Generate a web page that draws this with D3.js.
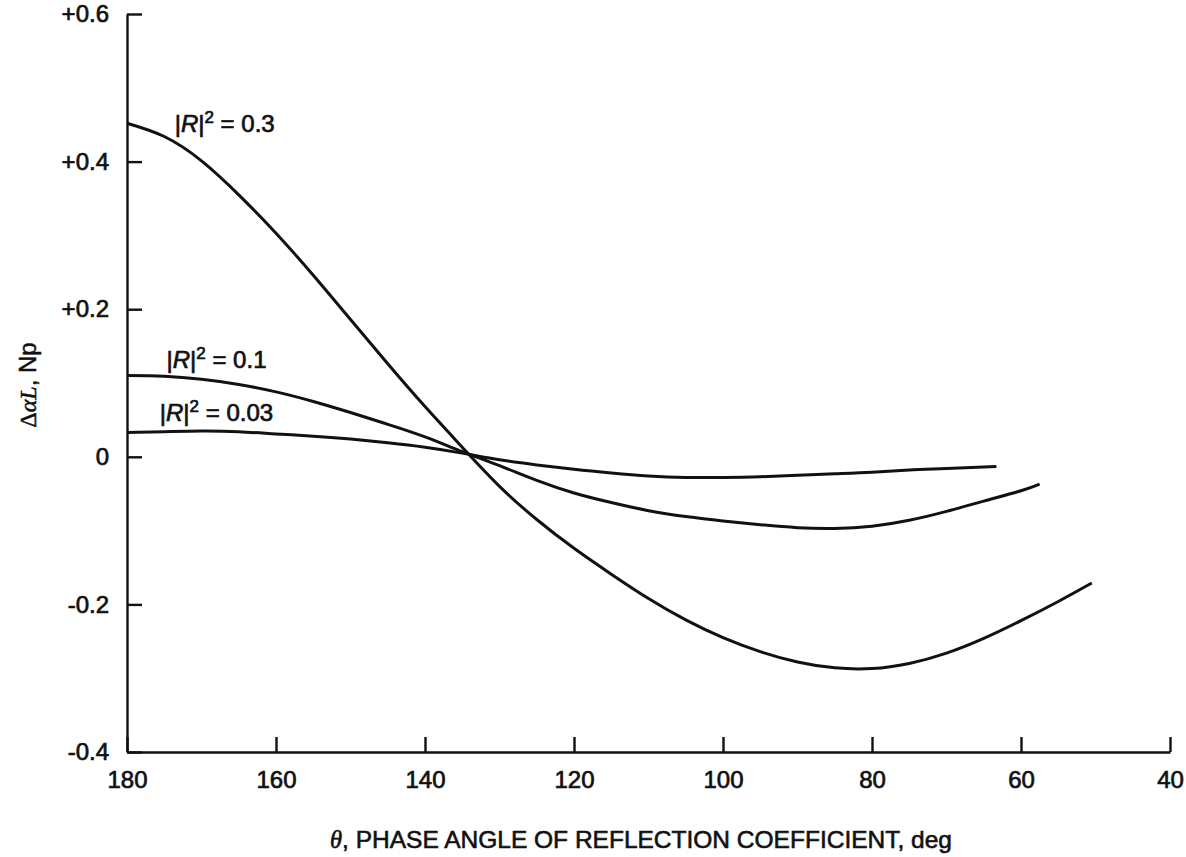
<!DOCTYPE html>
<html>
<head>
<meta charset="utf-8">
<script src="https://cdn.jsdelivr.net/npm/d3@7"></script>
<style>
  body { margin: 0; background: #fff; }
  svg text { font-family: "Liberation Sans", Arial, Helvetica, sans-serif; fill: #111; }
</style>
</head>
<body>
<div id="chart"></div>
<script>
// phase angle (deg) and delta alpha L (Np)
var theta03 = [180, 175, 170, 165, 160, 155, 150, 145, 140, 135, 130, 125, 120, 115, 110, 105, 100, 95, 90, 85, 80, 75, 70, 65, 60, 55, 50.5];
var val03   = [0.452, 0.434, 0.401, 0.355, 0.303, 0.246, 0.186, 0.126, 0.068, 0.013, -0.040, -0.085, -0.124, -0.159, -0.192, -0.221, -0.245, -0.264, -0.278, -0.286, -0.287, -0.280, -0.266, -0.246, -0.222, -0.196, -0.171];

var theta01 = [180, 175, 170, 165, 160, 155, 150, 145, 140, 135, 130, 125, 120, 115, 110, 105, 100, 95, 90, 85, 80, 75, 70, 65, 60, 57.5];
var val01   = [0.110, 0.109, 0.105, 0.098, 0.088, 0.075, 0.060, 0.044, 0.027, 0.007, -0.012, -0.032, -0.049, -0.062, -0.073, -0.081, -0.087, -0.092, -0.096, -0.097, -0.094, -0.086, -0.074, -0.060, -0.046, -0.037];

var theta003 = [180, 175, 170, 165, 160, 155, 150, 145, 140, 135, 130, 125, 120, 115, 110, 105, 100, 95, 90, 85, 80, 75, 70, 63.3];
var val003   = [0.033, 0.034, 0.035, 0.034, 0.031, 0.028, 0.024, 0.019, 0.013, 0.005, -0.004, -0.011, -0.017, -0.022, -0.026, -0.028, -0.028, -0.027, -0.025, -0.023, -0.021, -0.018, -0.016, -0.013];

var xTicks = [180, 160, 140, 120, 100, 80, 60, 40];
var yTicks = [-0.4, -0.2, 0, 0.2, 0.4, 0.6];
var yTickLabels = ["-0.4", "-0.2", "0", "+0.2", "+0.4", "+0.6"];

var curveNames = ["0.3", "0.1", "0.03"];

// svg area
var W = 1186, H = 857;
var svg = d3.select("#chart")
  .append("svg")
    .attr("width", W)
    .attr("height", H);

// scales (angle runs backwards, 180 on the left)
var x = d3.scaleLinear().domain([180, 40]).range([127, 1170]);
var y = d3.scaleLinear().domain([-0.4, 0.6]).range([752, 14]);

// x axis, ticks pointing up into the plot
var xAxis = svg.append("g")
  .attr("transform", "translate(0," + y(-0.4) + ")")
  .call(d3.axisBottom(x)
    .tickValues(xTicks)
    .tickFormat(d3.format("d"))
    .tickSizeInner(-15)
    .tickSizeOuter(0)
    .tickPadding(19));

// y axis, ticks pointing right
var yAxis = svg.append("g")
  .attr("transform", "translate(" + x(180) + ",0)")
  .call(d3.axisLeft(y)
    .tickValues(yTicks)
    .tickFormat(function(d, i) { return yTickLabels[i]; })
    .tickSizeInner(-15)
    .tickSizeOuter(0)
    .tickPadding(18));

svg.selectAll(".domain, .tick line")
  .attr("stroke", "#111")
  .attr("stroke-width", 2.4);
svg.selectAll(".tick text")
  .style("font-size", "24px")
  .style("font-family", "Liberation Sans, Arial, sans-serif")
  .attr("fill", "#111")
  .attr("stroke", "#111")
  .attr("stroke-width", 0.7);

// the three curves
var line = d3.line()
  .x(function(d) { return x(d[0]); })
  .y(function(d) { return y(d[1]); })
  .curve(d3.curveNatural);

var series = [
  d3.zip(theta03, val03),
  d3.zip(theta01, val01),
  d3.zip(theta003, val003)
];

svg.selectAll(".curve")
  .data(series)
  .enter()
  .append("path")
    .attr("class", "curve")
    .attr("d", line)
    .attr("fill", "none")
    .attr("stroke", "#111")
    .attr("stroke-width", 3);

// curve labels |R|^2 = ...
var labelTheta = [173.6, 174.7, 175.6];
var labelVal = [0.44, 0.121, 0.048];

curveNames.forEach(function(name, i) {
  var t = svg.append("text")
    .attr("x", x(labelTheta[i]))
    .attr("y", y(labelVal[i]))
    .style("font-size", "24px")
    .attr("stroke", "#111")
    .attr("stroke-width", 0.7);
  t.append("tspan").text("|");
  t.append("tspan").style("font-style", "italic").text("R");
  t.append("tspan").text("|");
  t.append("tspan").attr("dy", -9).style("font-size", "17px").text("2");
  t.append("tspan").attr("dy", 9).text(" = " + name);
});

// axis titles
var xt = svg.append("text")
  .attr("x", 641)
  .attr("y", 848)
  .attr("text-anchor", "middle")
  .style("font-size", "24.5px")
  .attr("stroke", "#111")
  .attr("stroke-width", 0.6);
xt.append("tspan").style("font-style", "italic").style("font-family", "Liberation Serif, Times New Roman, serif").text("θ");
xt.append("tspan").text(", PHASE ANGLE OF REFLECTION COEFFICIENT, deg");

var yt = svg.append("text")
  .attr("transform", "translate(36,385) rotate(-90)")
  .attr("text-anchor", "middle")
  .style("font-size", "24px")
  .attr("stroke", "#111")
  .attr("stroke-width", 0.5);
yt.append("tspan").style("font-family", "Liberation Serif, Times New Roman, serif").text("Δ");
yt.append("tspan").style("font-family", "Liberation Serif, Times New Roman, serif").style("font-style", "italic").text("αL");
yt.append("tspan").text(", Np");
</script>
</body>
</html>
